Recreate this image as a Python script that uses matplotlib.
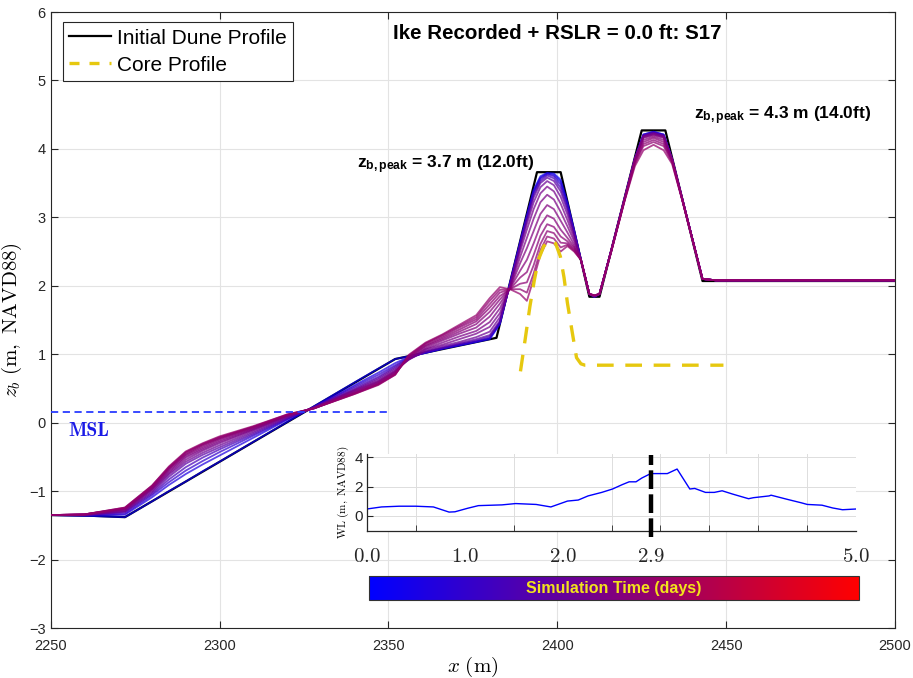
import numpy as np
import matplotlib
matplotlib.use('Agg')
import matplotlib.pyplot as plt
from matplotlib.colors import LinearSegmentedColormap, Normalize
from matplotlib.cm import ScalarMappable
from matplotlib.lines import Line2D

plt.rcParams['font.family'] = ['Liberation Sans', 'DejaVu Sans']
plt.rcParams['mathtext.fontset'] = 'custom'
plt.rcParams['mathtext.rm'] = 'cmr10'
plt.rcParams['mathtext.it'] = 'cmmi10'
plt.rcParams['mathtext.bf'] = 'Liberation Sans:bold'
plt.rcParams['mathtext.sf'] = 'Liberation Sans'
plt.rcParams['axes.formatter.use_mathtext'] = False

# ---------------- data ----------------
x_init = [2250, 2262, 2272, 2352, 2382, 2394, 2401, 2409.5, 2412.5, 2425, 2432, 2443, 2500]
z_init = [-1.35, -1.36, -1.38, 0.93, 1.24, 3.66, 3.66, 1.84, 1.84, 4.27, 4.27, 2.07, 2.07]

x_core = [2389.1, 2390.5, 2391.9, 2393.2, 2394.4, 2396.0, 2397.9, 2399.5, 2400.9,
          2402.0, 2403.0, 2404.5, 2405.7, 2407.0, 2408.2, 2449.2]
z_core = [0.75, 1.22, 1.70, 2.08, 2.38, 2.58, 2.67, 2.62, 2.43,
          2.12, 1.75, 1.30, 0.95, 0.86, 0.84, 0.84]

x_prof = [2250, 2260, 2272, 2280, 2285, 2290, 2295, 2300, 2310, 2320, 2328, 2340, 2347, 2352,
          2356, 2361, 2366, 2371, 2376, 2380, 2383,
          2386, 2389, 2391, 2393, 2395, 2397, 2399, 2401, 2403, 2405, 2407,
          2409.5, 2411, 2412.5, 2416, 2420, 2423, 2425.5, 2428.5, 2431.5, 2434, 2437, 2443, 2447, 2500]

profile_times = [0.2, 0.6, 1.0, 1.4, 1.8, 2.1, 2.3, 2.4, 2.5, 2.6, 2.7, 2.75, 2.8, 2.9]

z_t020 = [-1.35, -1.36, -1.38, -1.15, -1.00, -0.86, -0.71, -0.57, -0.28, 0.01, 0.24, 0.59, 0.79, 0.93,
          0.97, 1.02, 1.08, 1.13, 1.18, 1.22, 1.44,
          2.04, 2.64, 3.03, 3.40, 3.60, 3.65, 3.64, 3.55, 3.22, 2.81, 2.38,
          1.88, 1.84, 1.88, 2.52, 3.29, 3.86, 4.21, 4.25, 4.21, 3.85, 3.27, 2.10, 2.08, 2.08]
z_t060 = [-1.35, -1.355, -1.345, -1.09, -0.91, -0.75, -0.61, -0.48, -0.22, 0.04, 0.23, 0.55, 0.73, 0.87,
          0.96, 1.02, 1.08, 1.13, 1.18, 1.23, 1.45,
          2.04, 2.63, 3.02, 3.38, 3.58, 3.64, 3.62, 3.52, 3.20, 2.80, 2.38,
          1.88, 1.84, 1.88, 2.52, 3.29, 3.86, 4.21, 4.25, 4.21, 3.85, 3.27, 2.10, 2.08, 2.08]
z_t100 = [-1.35, -1.35, -1.33, -1.06, -0.87, -0.70, -0.56, -0.43, -0.19, 0.05, 0.23, 0.53, 0.70, 0.84,
          0.95, 1.03, 1.09, 1.14, 1.19, 1.24, 1.46,
          2.03, 2.62, 3.00, 3.36, 3.56, 3.63, 3.60, 3.48, 3.17, 2.79, 2.38,
          1.88, 1.84, 1.88, 2.52, 3.29, 3.86, 4.20, 4.24, 4.20, 3.85, 3.27, 2.10, 2.08, 2.08]
z_t140 = [-1.35, -1.35, -1.31, -1.04, -0.83, -0.65, -0.51, -0.39, -0.17, 0.06, 0.23, 0.51, 0.67, 0.82,
          0.94, 1.03, 1.09, 1.15, 1.20, 1.26, 1.47,
          2.02, 2.60, 2.98, 3.33, 3.53, 3.61, 3.57, 3.43, 3.14, 2.78, 2.38,
          1.88, 1.84, 1.88, 2.52, 3.29, 3.86, 4.20, 4.24, 4.20, 3.85, 3.27, 2.10, 2.08, 2.08]
z_t180 = [-1.35, -1.35, -1.30, -1.02, -0.79, -0.60, -0.47, -0.36, -0.15, 0.07, 0.22, 0.49, 0.65, 0.80,
          0.93, 1.04, 1.10, 1.16, 1.22, 1.28, 1.49,
          2.01, 2.58, 2.95, 3.29, 3.50, 3.58, 3.53, 3.38, 3.10, 2.76, 2.38,
          1.88, 1.85, 1.88, 2.52, 3.29, 3.86, 4.19, 4.23, 4.19, 3.85, 3.27, 2.10, 2.08, 2.08]
z_t210 = [-1.35, -1.35, -1.29, -1.00, -0.76, -0.57, -0.44, -0.33, -0.13, 0.08, 0.22, 0.48, 0.63, 0.78,
          0.92, 1.05, 1.12, 1.18, 1.25, 1.33, 1.54,
          2.00, 2.55, 2.90, 3.22, 3.44, 3.53, 3.47, 3.30, 3.04, 2.73, 2.38,
          1.88, 1.85, 1.88, 2.52, 3.29, 3.86, 4.19, 4.23, 4.19, 3.85, 3.27, 2.10, 2.08, 2.08]
z_t230 = [-1.35, -1.345, -1.28, -0.98, -0.74, -0.54, -0.41, -0.30, -0.11, 0.09, 0.22, 0.47, 0.61, 0.76,
          0.92, 1.07, 1.14, 1.22, 1.30, 1.40, 1.60,
          1.98, 2.50, 2.82, 3.12, 3.35, 3.45, 3.38, 3.20, 2.96, 2.69, 2.38,
          1.88, 1.85, 1.88, 2.52, 3.28, 3.85, 4.18, 4.22, 4.18, 3.85, 3.27, 2.10, 2.08, 2.08]
z_t240 = [-1.35, -1.345, -1.27, -0.97, -0.72, -0.51, -0.39, -0.28, -0.10, 0.10, 0.22, 0.46, 0.60, 0.75,
          0.93, 1.08, 1.17, 1.26, 1.34, 1.47, 1.67,
          1.97, 2.42, 2.70, 2.98, 3.22, 3.33, 3.26, 3.08, 2.87, 2.65, 2.38,
          1.88, 1.85, 1.88, 2.52, 3.28, 3.85, 4.17, 4.21, 4.17, 3.84, 3.27, 2.10, 2.08, 2.08]
z_t250 = [-1.35, -1.34, -1.26, -0.96, -0.70, -0.49, -0.37, -0.26, -0.09, 0.10, 0.21, 0.45, 0.59, 0.74,
          0.94, 1.10, 1.20, 1.30, 1.39, 1.55, 1.74,
          1.96, 2.33, 2.55, 2.80, 3.05, 3.18, 3.12, 2.95, 2.78, 2.60, 2.38,
          1.88, 1.85, 1.88, 2.52, 3.28, 3.85, 4.16, 4.20, 4.16, 3.84, 3.27, 2.10, 2.08, 2.08]
z_t260 = [-1.35, -1.34, -1.26, -0.95, -0.68, -0.47, -0.35, -0.24, -0.08, 0.11, 0.21, 0.44, 0.58, 0.73,
          0.95, 1.12, 1.22, 1.33, 1.44, 1.62, 1.80,
          1.96, 2.22, 2.38, 2.62, 2.88, 3.03, 2.98, 2.82, 2.70, 2.57, 2.38,
          1.88, 1.86, 1.88, 2.52, 3.27, 3.84, 4.13, 4.18, 4.13, 3.84, 3.27, 2.10, 2.08, 2.08]
z_t270 = [-1.35, -1.34, -1.25, -0.94, -0.67, -0.46, -0.33, -0.23, -0.07, 0.11, 0.21, 0.43, 0.57, 0.72,
          0.96, 1.13, 1.24, 1.36, 1.48, 1.68, 1.85,
          1.95, 2.12, 2.20, 2.45, 2.73, 2.90, 2.86, 2.72, 2.65, 2.55, 2.38,
          1.88, 1.86, 1.88, 2.51, 3.27, 3.82, 4.10, 4.16, 4.10, 3.83, 3.26, 2.10, 2.08, 2.08]
z_t275 = [-1.35, -1.34, -1.25, -0.93, -0.66, -0.44, -0.32, -0.22, -0.06, 0.11, 0.21, 0.43, 0.56, 0.71,
          0.97, 1.15, 1.26, 1.39, 1.51, 1.73, 1.90,
          1.95, 2.03, 2.05, 2.30, 2.61, 2.80, 2.77, 2.63, 2.62, 2.53, 2.38,
          1.88, 1.86, 1.88, 2.51, 3.26, 3.80, 4.07, 4.13, 4.07, 3.82, 3.26, 2.10, 2.08, 2.08]
z_t280 = [-1.35, -1.34, -1.24, -0.92, -0.65, -0.43, -0.31, -0.21, -0.06, 0.12, 0.21, 0.42, 0.56, 0.70,
          0.98, 1.16, 1.28, 1.41, 1.54, 1.78, 1.94,
          1.95, 1.95, 1.90, 2.18, 2.52, 2.72, 2.69, 2.56, 2.60, 2.51, 2.38,
          1.88, 1.86, 1.88, 2.50, 3.26, 3.78, 4.04, 4.10, 4.04, 3.80, 3.25, 2.10, 2.08, 2.08]
z_t290 = [-1.35, -1.34, -1.24, -0.92, -0.64, -0.42, -0.30, -0.20, -0.05, 0.12, 0.21, 0.42, 0.55, 0.70,
          0.99, 1.17, 1.29, 1.43, 1.57, 1.82, 1.98,
          1.95, 1.88, 1.78, 2.10, 2.45, 2.65, 2.62, 2.50, 2.58, 2.50, 2.38,
          1.88, 1.86, 1.88, 2.50, 3.25, 3.75, 3.98, 4.06, 3.98, 3.78, 3.25, 2.10, 2.08, 2.08]

profiles = [z_t020, z_t060, z_t100, z_t140, z_t180, z_t210, z_t230,
            z_t240, z_t250, z_t260, z_t270, z_t275, z_t280, z_t290]

msl_level = 0.16
msl_x = [2250, 2350]

wl_t = [0.0, 0.15, 0.33, 0.50, 0.68, 0.84, 0.90, 1.03, 1.14, 1.38, 1.52, 1.73, 1.88, 2.05, 2.16,
        2.26, 2.40, 2.51, 2.61, 2.68, 2.75, 2.81, 2.90, 3.07, 3.17, 3.30, 3.35, 3.46, 3.55, 3.63,
        3.74, 3.90, 3.95, 4.11, 4.13, 4.30, 4.44, 4.50, 4.65, 4.76, 4.86, 5.0]
wl_z = [0.47, 0.61, 0.66, 0.66, 0.61, 0.26, 0.28, 0.52, 0.70, 0.75, 0.84, 0.78, 0.61, 1.01, 1.08,
        1.36, 1.60, 1.83, 2.13, 2.32, 2.32, 2.58, 2.88, 2.88, 3.19, 1.83, 1.87, 1.60, 1.60, 1.71,
        1.48, 1.17, 1.24, 1.36, 1.41, 1.12, 0.89, 0.78, 0.73, 0.54, 0.42, 0.47]

current_time = 2.9
time_max = 5.0
time_label_vals = [0.0, 1.0, 2.0, 2.9, 5.0]
time_label_txt = ['0.0', '1.0', '2.0', '2.9', '5.0']

title_txt = 'Ike Recorded + RSLR = 0.0 ft: S17'
peak_labels = [(2340.7, 3.72, '3.7 m (12.0ft)'), (2440.5, 4.43, '4.3 m (14.0ft)')]

# ---------------- figure ----------------
fig = plt.figure(figsize=(9.13, 6.78), dpi=100)
ax = fig.add_axes([0.0555, 0.0737, 0.9248, 0.9086])

cmap = LinearSegmentedColormap.from_list('bluered', ['#0000ff', '#ff0000'])
axcol = '#262626'
core_col = '#E6C80F'

ax.plot(x_init, z_init, color='k', lw=1.6, zorder=2)
for t, z in zip(profile_times, profiles):
    ax.plot(x_prof, z, color=cmap(t / time_max), lw=1.3, alpha=0.72, zorder=3)
ax.plot(x_core, z_core, color=core_col, lw=2.4, ls=(0, (5, 3.5)), zorder=4)
ax.plot(msl_x, [msl_level, msl_level], color='#2a3cff', lw=1.3, ls=(0, (4, 2.5)), zorder=4)
ax.text(2255.2, -0.12, 'MSL', color='#1a1ae6', fontsize=14, fontfamily='cmb10',
        ha='left', va='center')

ax.set_xlim(2250, 2500)
ax.set_ylim(-3, 6)
ax.set_xticks(np.arange(2250, 2501, 50))
ax.set_yticks(np.arange(-3, 7, 1))
ax.grid(True, color='#e3e3e3', lw=0.8)
ax.set_axisbelow(True)
ax.tick_params(direction='in', top=True, right=True, labelsize=10.5, colors=axcol, length=5)
ax.tick_params(axis='x', pad=8)
for sp in ax.spines.values():
    sp.set_color(axcol)
    sp.set_linewidth(0.8)
ax.set_xlabel(r'$x\ \mathrm{(m)}$', fontsize=15, labelpad=1)
ax.set_ylabel(r'$z_b\ \mathrm{(m,\ NAVD88)}$', fontsize=15, labelpad=4)

ax.text(2399.9, 5.69, title_txt, fontsize=14.8, fontweight='bold', ha='center', va='center')
for px, py, txt in peak_labels:
    ax.text(px, py, r'$\mathbf{z_{b,peak}}$' + ' = ' + txt, fontsize=12.5, fontweight='bold',
            ha='left', va='baseline')

handles = [Line2D([0], [0], color='k', lw=1.6),
           Line2D([0], [0], color=core_col, lw=2.4, ls=(0, (3, 3)))]
leg = ax.legend(handles, ['Initial Dune Profile', 'Core Profile'], loc='upper left',
                bbox_to_anchor=(0.0146, 0.983), borderaxespad=0, fontsize=15,
                fancybox=False, framealpha=1, edgecolor='#262626', handlelength=2.0,
                borderpad=0.3, labelspacing=0.38, handletextpad=0.3)
leg.get_frame().set_linewidth(0.8)

# ---------------- inset WL ----------------
axi = fig.add_axes([0.4018, 0.2174, 0.536, 0.1127])
axi.plot(wl_t, wl_z, color='#0000ff', lw=1.0)
axi.plot([current_time, current_time], [-1.42, 4.16], color='k', lw=3.2,
         ls=(0, (4.2, 1.2)), clip_on=False, zorder=5)
axi.set_xlim(0, time_max)
axi.set_ylim(-1, 4.2)
axi.set_yticks([0, 2, 4])
axi.set_xticks(time_label_vals)
axi.set_xticklabels([r'$\mathrm{%s}$' % s for s in time_label_txt], fontsize=15)
axi.set_xticks(np.arange(0, 5.01, 0.5), minor=True)
axi.tick_params(axis='x', which='major', length=0, pad=12, colors=axcol)
axi.tick_params(axis='x', which='minor', direction='in', length=4, color=axcol)
axi.tick_params(axis='y', direction='in', length=4, labelsize=11, colors=axcol, pad=3)
axi.grid(True, which='minor', axis='x', color='#dddddd', lw=0.7)
axi.grid(True, which='major', axis='y', color='#dddddd', lw=0.7)
axi.set_axisbelow(True)
axi.spines['top'].set_visible(False)
axi.spines['right'].set_visible(False)
for s in ('left', 'bottom'):
    axi.spines[s].set_color(axcol)
    axi.spines[s].set_linewidth(0.9)
axi.set_ylabel(r'$\mathrm{WL\ (m,\ NAVD88)}$', fontsize=8, labelpad=2)

# ---------------- colorbar ----------------
cax = fig.add_axes([0.4041, 0.1150, 0.5371, 0.0354])
cb = fig.colorbar(ScalarMappable(norm=Normalize(0, time_max), cmap=cmap), cax=cax,
                  orientation='horizontal')
cb.set_ticks([])
cb.outline.set_edgecolor('#333333')
cb.outline.set_linewidth(0.8)
cax.text(0.5, 0.5, 'Simulation Time (days)', transform=cax.transAxes, ha='center', va='center',
         fontsize=11.5, fontweight='bold', color='#F2E21C')

fig.savefig('out.png', dpi=100)
